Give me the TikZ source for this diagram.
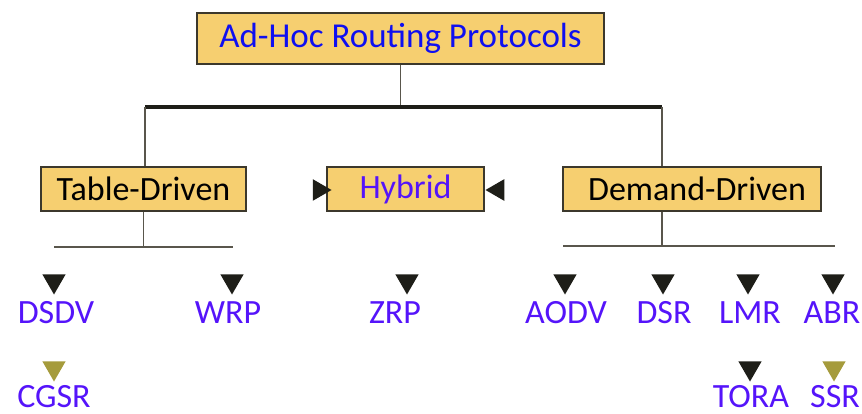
\documentclass[tikz,border=0pt]{standalone}
\usepackage{fontspec}
\setmainfont{Carlito}
\usepackage{tikz}
\usetikzlibrary{shapes.geometric, positioning}
\definecolor{boxfill}{RGB}{246,207,112}
\definecolor{boxline}{RGB}{60,56,44}
\definecolor{titleblue}{RGB}{15,15,240}
\definecolor{leafblue}{RGB}{85,20,250}
\definecolor{tipdark}{RGB}{30,30,24}
\definecolor{tipolive}{RGB}{165,155,60}

\begin{document}
\begin{tikzpicture}[x=1pt, y=-1pt,
  every node/.style={font=\fontsize{34}{36}\selectfont, inner sep=0pt},
  b/.style={rectangle, draw=boxline, line width=1.3pt, fill=boxfill,
            minimum height=44pt, align=center},
  leaf/.style={text=leafblue},
  tri/.style={regular polygon, regular polygon sides=3, minimum size=27pt,
              shape border rotate=180, fill=tipdark, outer sep=0pt},
  link/.style={draw=boxline!85, line width=1.1pt},
  bar/.style={draw=tipdark, line width=3.5pt},
]
\useasboundingbox (0,0) rectangle (862,414);

% boxes
\node[b, minimum width=407pt, minimum height=51pt, text=titleblue,
      font=\fontsize{35}{37}\selectfont] (ah) at (400.5,38.5) {Ad-Hoc Routing Protocols};
\node[b, minimum width=205pt] (td) at (143.5,189) {Table-Driven};
\node[b, minimum width=157pt, text=leafblue] (hy) at (405.5,189) {Hybrid};
\node[b, minimum width=258pt] (dd) at (692,189) {\hspace*{10pt}Demand-Driven};

% pointers into Hybrid
\node[tri, shape border rotate=-90, minimum size=25pt] (hyl) at (319,190) {};
\node[tri, shape border rotate=90,  minimum size=25pt] (hyr) at (498,190) {};

% top branching
\coordinate (barL) at (145,107);
\coordinate (barR) at (662,107);
\draw[link] (ah.south) -- (ah.south |- barL);
\draw[bar] (barL) -- (barR);
\draw[link] (barL) -- (barL |- td.north);
\draw[link] (barR) -- (barR |- dd.north);

% table-driven branching
\coordinate (tdL) at (54,247);
\coordinate (tdR) at (233,247);
\draw[link] (td.south) -- (td.south |- tdL);
\draw[link, line width=1.4pt] (tdL) -- (tdR);

% demand-driven branching
\coordinate (ddL) at (563,246);
\coordinate (ddR) at (835,246);
\coordinate (ddJ) at (662,246);
\draw[link] (ddJ |- dd.south) -- (ddJ);
\draw[link, line width=2pt] (ddL) -- (ddR);

% first level protocols
\node[tri] (t1) at (54,281) {};
\node[tri] (t2) at (232,281) {};
\node[tri] (t3) at (407,281) {};
\node[tri] (t4) at (565,281) {};
\node[tri] (t5) at (663,281) {};
\node[tri] (t6) at (748,281) {};
\node[tri] (t7) at (833,281) {};
\node[leaf] (dsdv) at (56,313) {DSDV};
\node[leaf] (wrp)  at (228,313) {WRP};
\node[leaf] (zrp)  at (395,313) {ZRP};
\node[leaf] (aodv) at (566,313) {AODV};
\node[leaf] (dsr)  at (664,313) {DSR};
\node[leaf] (lmr)  at (750,313) {LMR};
\node[leaf] (abr)  at (832,313) {ABR};

% second level protocols
\node[tri, fill=tipolive] (t8)  at (54,368) {};
\node[tri]                (t9)  at (750,368) {};
\node[tri, fill=tipolive] (t10) at (834,368) {};
\node[leaf] (cgsr) at (54,397) {CGSR};
\node[leaf] (tora) at (751,397) {TORA};
\node[leaf] (ssr)  at (835,397) {SSR};
\end{tikzpicture}
\end{document}
